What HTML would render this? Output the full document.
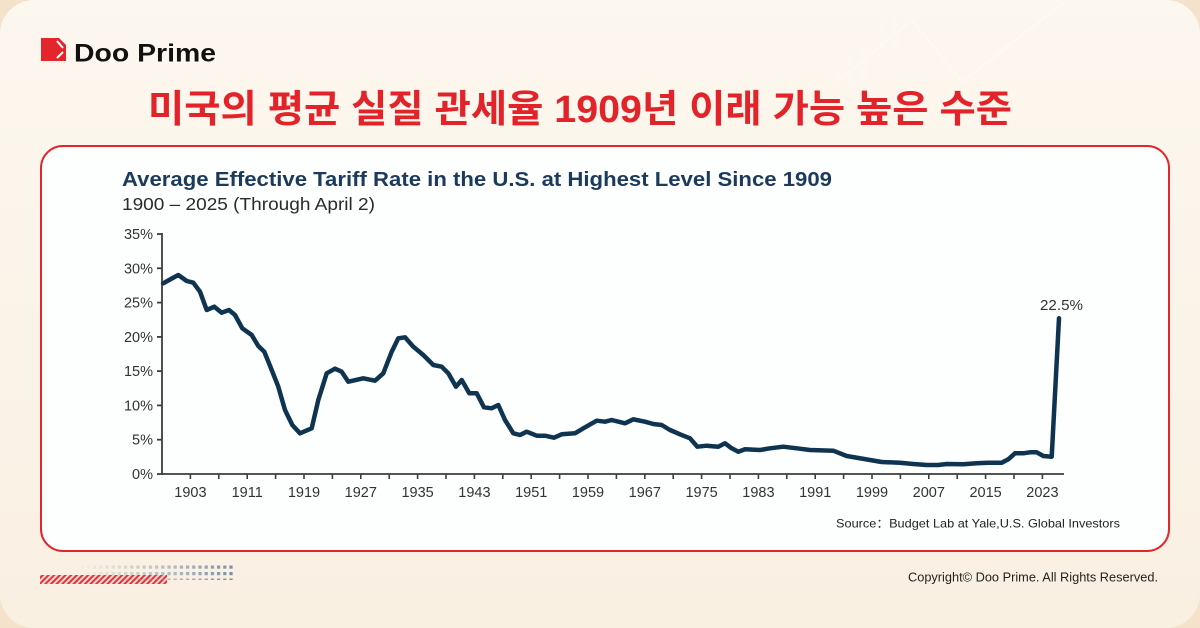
<!DOCTYPE html>
<html>
<head>
<meta charset="utf-8">
<style>
  html, body { margin:0; padding:0; width:1200px; height:628px; overflow:hidden; background:#f5e3cc; }
  svg { display:block; }
</style>
</head>
<body>
<svg width="1200" height="628" viewBox="0 0 1200 628" xmlns="http://www.w3.org/2000/svg">
  <defs>
    <linearGradient id="bg" x1="0" y1="0" x2="0" y2="1">
      <stop offset="0" stop-color="#fcf7ef"/>
      <stop offset="1" stop-color="#f9f0e2"/>
    </linearGradient>
    <pattern id="stripes" width="4" height="4" patternUnits="userSpaceOnUse" patternTransform="rotate(45)">
      <rect width="4" height="4" fill="#f6d9d0"/>
      <rect width="2" height="4" fill="#e0343a"/>
    </pattern>
    <linearGradient id="dotfade" x1="0" y1="0" x2="1" y2="0">
      <stop offset="0" stop-color="#8a9db0" stop-opacity="0"/>
      <stop offset="1" stop-color="#7a8fa5" stop-opacity="1"/>
    </linearGradient>
    <pattern id="dots" width="6.2" height="6.5" patternUnits="userSpaceOnUse">
      <rect x="0" y="0" width="3.2" height="3.2" fill="#fff"/>
    </pattern>
    <mask id="dotmask">
      <rect x="78" y="564" width="155" height="16" fill="url(#dots)"/>
    </mask>
  </defs>

  <!-- background -->
  <rect x="0" y="0" width="1200" height="628" fill="#f4e2ca"/>
  <rect x="0" y="0" width="1200" height="628" rx="34" ry="34" fill="url(#bg)"/>

  <!-- faint top-right decoration -->
  <g opacity="0.3" fill="none" stroke="#ffffff" stroke-width="2">
    <polyline points="833,85 912,20 962,82 1067,0"/>
  </g>
  <g opacity="0.12" fill="#ffffff">
    <rect x="880" y="8" width="6" height="40"/>
    <rect x="892" y="20" width="6" height="30"/>
    <rect x="848" y="55" width="6" height="30"/>
    <rect x="860" y="45" width="6" height="40"/>
    <rect x="835" y="70" width="6" height="20"/>
  </g>

  <!-- logo -->
  <path d="M41 38 H59 L66 45 V61 H41 Z" fill="#e3262b"/>
  <line x1="57" y1="41" x2="63" y2="48" stroke="#fff" stroke-width="2"/>
  <line x1="57" y1="58" x2="63" y2="52" stroke="#fff" stroke-width="2"/>
  <text x="74" y="61.5" font-family="Liberation Sans, sans-serif" font-weight="bold" font-size="25" fill="#111" textLength="142" lengthAdjust="spacingAndGlyphs">Doo Prime</text>

  <!-- header title -->
  <text x="148" y="122" font-family="Liberation Sans, 'Noto Sans CJK KR', sans-serif" font-weight="bold" font-size="38" fill="#e3232a" textLength="864" lengthAdjust="spacingAndGlyphs">미국의 평균 실질 관세율 1909년 이래 가능 높은 수준</text>

  <!-- card -->
  <rect x="41" y="146" width="1128" height="405" rx="22" ry="22" fill="#fdfefe" stroke="#e3262b" stroke-width="2"/>

  <!-- chart title -->
  <text x="122" y="186" font-family="Liberation Sans, sans-serif" font-weight="bold" font-size="20.5" fill="#1b3a5c" textLength="710" lengthAdjust="spacingAndGlyphs">Average Effective Tariff Rate in the U.S. at Highest Level Since 1909</text>
  <text x="122" y="210" font-family="Liberation Sans, sans-serif" font-size="17.5" fill="#2a2a2a" textLength="253" lengthAdjust="spacingAndGlyphs">1900 – 2025 (Through April 2)</text>

  <!-- y axis -->
  <g stroke="#3d3d3d" stroke-width="1.8">
    <line x1="162" y1="233" x2="162" y2="475"/>
    <line x1="157" y1="474" x2="162" y2="474"/>
    <line x1="157" y1="439.7" x2="162" y2="439.7"/>
    <line x1="157" y1="405.4" x2="162" y2="405.4"/>
    <line x1="157" y1="371.1" x2="162" y2="371.1"/>
    <line x1="157" y1="336.9" x2="162" y2="336.9"/>
    <line x1="157" y1="302.6" x2="162" y2="302.6"/>
    <line x1="157" y1="268.3" x2="162" y2="268.3"/>
    <line x1="157" y1="234" x2="162" y2="234"/>
  </g>
  <g font-family="Liberation Sans, sans-serif" font-size="14.5" fill="#333" text-anchor="end">
    <text x="153" y="479">0%</text>
    <text x="153" y="444.7">5%</text>
    <text x="153" y="410.4">10%</text>
    <text x="153" y="376.1">15%</text>
    <text x="153" y="341.9">20%</text>
    <text x="153" y="307.6">25%</text>
    <text x="153" y="273.3">30%</text>
    <text x="153" y="239">35%</text>
  </g>

  <!-- x axis -->
  <line x1="161" y1="474" x2="1064" y2="474" stroke="#3d3d3d" stroke-width="1.8"/>
  <g stroke="#3d3d3d" stroke-width="1.6">
    <line x1="190.4" y1="474" x2="190.4" y2="479"/>
    <line x1="218.8" y1="474" x2="218.8" y2="479"/>
    <line x1="247.2" y1="474" x2="247.2" y2="479"/>
    <line x1="275.6" y1="474" x2="275.6" y2="479"/>
    <line x1="304" y1="474" x2="304" y2="479"/>
    <line x1="332.4" y1="474" x2="332.4" y2="479"/>
    <line x1="360.8" y1="474" x2="360.8" y2="479"/>
    <line x1="389.2" y1="474" x2="389.2" y2="479"/>
    <line x1="417.6" y1="474" x2="417.6" y2="479"/>
    <line x1="446" y1="474" x2="446" y2="479"/>
    <line x1="474.4" y1="474" x2="474.4" y2="479"/>
    <line x1="502.8" y1="474" x2="502.8" y2="479"/>
    <line x1="531.2" y1="474" x2="531.2" y2="479"/>
    <line x1="559.6" y1="474" x2="559.6" y2="479"/>
    <line x1="588" y1="474" x2="588" y2="479"/>
    <line x1="616.4" y1="474" x2="616.4" y2="479"/>
    <line x1="644.8" y1="474" x2="644.8" y2="479"/>
    <line x1="673.2" y1="474" x2="673.2" y2="479"/>
    <line x1="701.6" y1="474" x2="701.6" y2="479"/>
    <line x1="730" y1="474" x2="730" y2="479"/>
    <line x1="758.4" y1="474" x2="758.4" y2="479"/>
    <line x1="786.8" y1="474" x2="786.8" y2="479"/>
    <line x1="815.2" y1="474" x2="815.2" y2="479"/>
    <line x1="843.6" y1="474" x2="843.6" y2="479"/>
    <line x1="872" y1="474" x2="872" y2="479"/>
    <line x1="900.4" y1="474" x2="900.4" y2="479"/>
    <line x1="928.8" y1="474" x2="928.8" y2="479"/>
    <line x1="957.2" y1="474" x2="957.2" y2="479"/>
    <line x1="985.6" y1="474" x2="985.6" y2="479"/>
    <line x1="1014" y1="474" x2="1014" y2="479"/>
    <line x1="1042.4" y1="474" x2="1042.4" y2="479"/>
  </g>
  <g font-family="Liberation Sans, sans-serif" font-size="14.5" fill="#333" text-anchor="middle">
    <text x="190.4" y="497">1903</text>
    <text x="247.2" y="497">1911</text>
    <text x="304" y="497">1919</text>
    <text x="360.8" y="497">1927</text>
    <text x="417.6" y="497">1935</text>
    <text x="474.4" y="497">1943</text>
    <text x="531.2" y="497">1951</text>
    <text x="588" y="497">1959</text>
    <text x="644.8" y="497">1967</text>
    <text x="701.6" y="497">1975</text>
    <text x="758.4" y="497">1983</text>
    <text x="815.2" y="497">1991</text>
    <text x="872" y="497">1999</text>
    <text x="928.8" y="497">2007</text>
    <text x="985.6" y="497">2015</text>
    <text x="1042.4" y="497">2023</text>
  </g>

  <!-- data line -->
  <polyline fill="none" stroke="#0e3452" stroke-width="4.5" stroke-linejoin="round" stroke-linecap="round" points="
163.3,283.3 170,279.5 178.3,275 186.7,281 193.3,282.7 200,291.7 206.7,310 214.3,306.7 221.7,312.7 229,310 235,315
242.3,328.3 251.7,335 258.3,346 264.3,351.7 271.7,370 278.3,386.7 285,410 292.3,425 300,433.3 311.7,428.3
318.3,400 326.7,373.3 335,368.7 341.7,371.7 348.3,381.7 363.3,378.3 375,380.7 383.3,373.3 391.7,351.7
398.3,338.3 405,337.3 413.3,346.7 423.3,355 433.3,365 441.7,366.7 448.3,373.3 456,386.7 461.7,380
469.3,393.3 476.7,393.3 484,407.3 491.7,408.3 498.3,405 505,420 513.3,433.3 520,435 526.7,431.7
536.7,435.7 545,435.7 554,437.7 561.7,434.3 575,433.3 583.3,428.3 596.7,420.7 605,421.7 611.7,420
625,423.3 633.3,419.3 645,421.7 653.3,424 661.7,425 670,430 680,434.3 690,438.3 697.3,446.7 706.7,445.7
718.3,446.7 725,443.3 731.7,448.3 738.3,451.7 745,449.3 760,450 770,448.3 783.3,446.7 796.7,448.3
810,450 833.3,450.7 838.3,452.7 846.7,456 870,460 881.7,462 900,462.7 913.3,464 926.7,465 938.3,465
946.7,464 963.3,464.3 976.7,463.3 988.3,462.7 1001.7,462.7 1008.3,459.3 1015,453.3 1023.3,453.3
1030,452.3 1036.7,452.3 1043.3,456 1051.7,456.7 1059,318.3"/>

  <text x="1040" y="310" font-family="Liberation Sans, sans-serif" font-size="14.5" fill="#333" textLength="43" lengthAdjust="spacingAndGlyphs">22.5%</text>

  <!-- source -->
  <text x="836" y="527.5" font-family="Liberation Sans, sans-serif" font-size="12" fill="#222" textLength="284" lengthAdjust="spacingAndGlyphs">Source：Budget Lab at Yale,U.S. Global Investors</text>

  <!-- bottom decoration -->
  <rect x="40" y="575" width="127" height="9" fill="url(#stripes)"/>
  <rect x="78" y="564" width="155" height="16" fill="url(#dotfade)" mask="url(#dotmask)"/>

  <!-- copyright -->
  <text x="908" y="581.5" font-family="Liberation Sans, sans-serif" font-size="12.5" fill="#222" textLength="250" lengthAdjust="spacingAndGlyphs">Copyright© Doo Prime. All Rights Reserved.</text>
</svg>
</body>
</html>
